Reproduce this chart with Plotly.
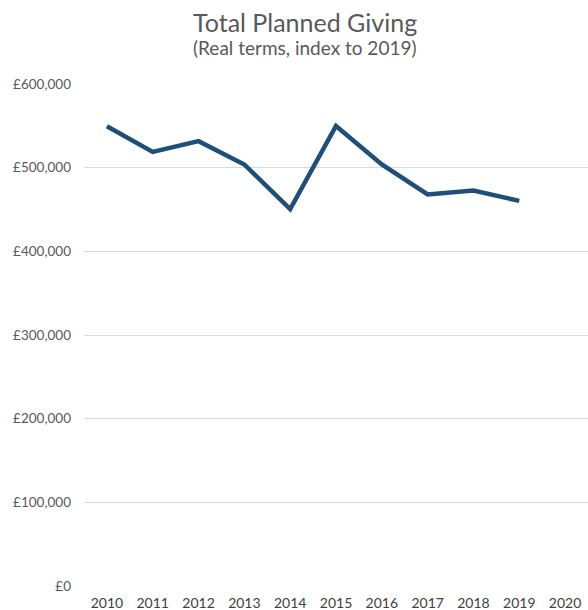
import plotly.graph_objects as go

years = [2010, 2011, 2012, 2013, 2014, 2015, 2016, 2017, 2018, 2019]
giving = [549600, 518900, 531700, 503800, 450400, 549900, 503800, 468000, 472700, 460300]
x_ticks = list(range(2010, 2021))
y_ticks = [0, 100000, 200000, 300000, 400000, 500000, 600000]
y_labels = ["£0", "£100,000", "£200,000", "£300,000", "£400,000", "£500,000", "£600,000"]

title = "Total Planned Giving"
subtitle = "(Real terms, index to 2019)"

W, H = 588, 610
L, T, B = 84, 84, 24
plot_w = W - L
plot_h = H - T - B

fig = go.Figure()
fig.add_trace(go.Scatter(
    x=years, y=giving, mode="lines",
    line=dict(color="#1F4E79", width=4.5, shape="linear"),
    hoverinfo="x+y", showlegend=False,
))

fig.update_layout(
    width=W, height=H,
    margin=dict(l=L, r=0, t=T, b=B, pad=0),
    paper_bgcolor="white", plot_bgcolor="white",
    font=dict(family="Lato, sans-serif", color="#595959", size=12),
    xaxis=dict(range=[2009.5, 2020.5], tickvals=x_ticks, ticktext=[str(t) for t in x_ticks],
               showgrid=False, zeroline=False, showline=False, ticks="",
               ticklabelstandoff=7, automargin=False,
               tickfont=dict(size=14, color="#404040")),
    yaxis=dict(range=[0, 600000], tickvals=y_ticks, ticktext=y_labels,
               showgrid=True, gridcolor="#D9D9D9", gridwidth=1, zeroline=False,
               showline=False, ticks="", ticklabelstandoff=12, automargin=False,
               tickfont=dict(size=13.5, color="#595959")),
    annotations=[
        dict(text=title, x=(305 - L) / plot_w, y=(H - B - 22) / plot_h, xref="paper", yref="paper",
             yanchor="middle", showarrow=False, font=dict(size=25, color="#595959")),
        dict(text=subtitle, x=(305 - L) / plot_w, y=(H - B - 47) / plot_h, xref="paper", yref="paper",
             yanchor="middle", showarrow=False, font=dict(size=19, color="#595959")),
    ],
)

fig.write_html(
    "out.html",
    config={"displayModeBar": False},
    post_script="document.body.style.margin='0';document.body.style.overflow='hidden';",
)
